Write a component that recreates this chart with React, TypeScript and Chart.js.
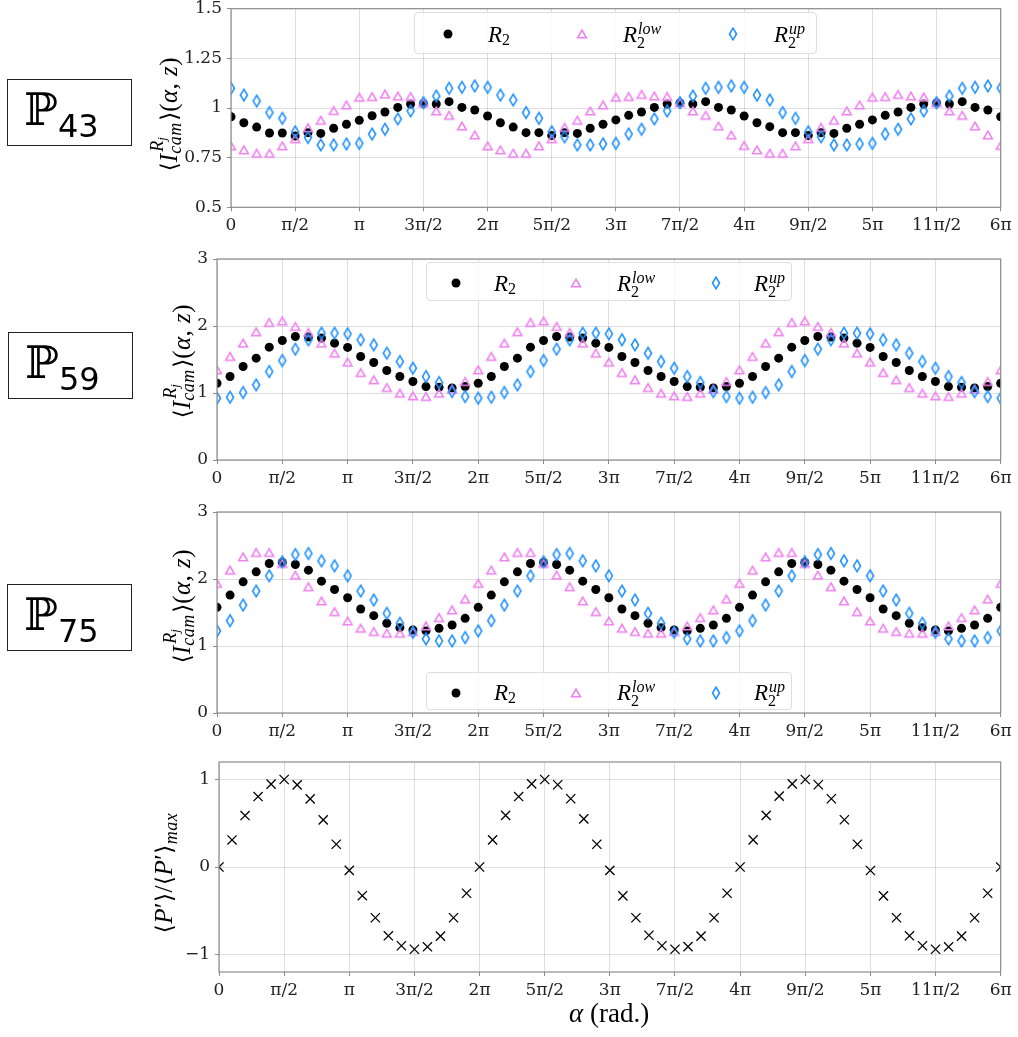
import React, { useEffect, useRef } from 'react';
import { Chart, registerables } from 'chart.js';
Chart.register(...registerables);

// alpha / pi
const ALPHA_OVER_PI = [
  0, 0.1, 0.2, 0.3, 0.4, 0.5, 0.6, 0.7, 0.8, 0.9,
  1, 1.1, 1.2, 1.3, 1.4, 1.5, 1.6, 1.7, 1.8, 1.9,
  2, 2.1, 2.2, 2.3, 2.4, 2.5, 2.6, 2.7, 2.8, 2.9,
  3, 3.1, 3.2, 3.3, 3.4, 3.5, 3.6, 3.7, 3.8, 3.9,
  4, 4.1, 4.2, 4.3, 4.4, 4.5, 4.6, 4.7, 4.8, 4.9,
  5, 5.1, 5.2, 5.3, 5.4, 5.5, 5.6, 5.7, 5.8, 5.9, 6,
];

const X_TICKS = [0, 0.5, 1, 1.5, 2, 2.5, 3, 3.5, 4, 4.5, 5, 5.5, 6];
const X_TICK_LABELS = ['0', 'π/2', 'π', '3π/2', '2π', '5π/2', '3π', '7π/2', '4π', '9π/2', '5π', '11π/2', '6π'];

const P43_Y_TICKS = [0.5, 0.75, 1, 1.25, 1.5];
const P43_Y_LABELS = ['0.5', '0.75', '1', '1.25', '1.5'];
const P59_Y_TICKS = [0, 1, 2, 3];
const P59_Y_LABELS = ['0', '1', '2', '3'];
const P75_Y_TICKS = [0, 1, 2, 3];
const P75_Y_LABELS = ['0', '1', '2', '3'];
const P_Y_TICKS = [-1, 0, 1];
const P_Y_LABELS = ['\u22121', '0', '1'];

const P43_R2 = [
  0.956, 0.926, 0.904, 0.874, 0.874, 0.859, 0.876, 0.872, 0.898, 0.918,
  0.938, 0.961, 0.980, 1.003, 1.020, 1.022, 1.020, 1.032, 1.003, 0.990,
  0.960, 0.926, 0.904, 0.876, 0.876, 0.861, 0.876, 0.872, 0.898, 0.918,
  0.940, 0.963, 0.980, 1.003, 1.020, 1.025, 1.020, 1.032, 1.003, 0.990,
  0.960, 0.926, 0.906, 0.876, 0.876, 0.861, 0.876, 0.872, 0.898, 0.918,
  0.940, 0.963, 0.980, 1.003, 1.020, 1.025, 1.020, 1.032, 1.003, 0.990, 0.956,
];
const P43_R2_LOW = [
  0.809, 0.789, 0.772, 0.772, 0.809, 0.845, 0.900, 0.938, 0.987, 1.015,
  1.054, 1.057, 1.070, 1.060, 1.057, 1.027, 0.985, 0.963, 0.909, 0.864,
  0.809, 0.789, 0.772, 0.772, 0.809, 0.845, 0.902, 0.938, 0.985, 1.015,
  1.054, 1.057, 1.068, 1.060, 1.057, 1.027, 0.985, 0.963, 0.909, 0.864,
  0.811, 0.789, 0.772, 0.772, 0.809, 0.845, 0.902, 0.938, 0.985, 1.015,
  1.054, 1.057, 1.068, 1.060, 1.055, 1.027, 0.985, 0.963, 0.909, 0.864, 0.811,
];
const P43_R2_UP = [
  1.099, 1.065, 1.035, 0.977, 0.948, 0.880, 0.852, 0.814, 0.814, 0.819,
  0.822, 0.869, 0.893, 0.945, 0.985, 1.027, 1.060, 1.099, 1.104, 1.111,
  1.104, 1.065, 1.040, 0.977, 0.948, 0.880, 0.855, 0.814, 0.814, 0.819,
  0.822, 0.869, 0.893, 0.945, 0.985, 1.027, 1.060, 1.099, 1.104, 1.111,
  1.104, 1.065, 1.040, 0.977, 0.948, 0.880, 0.855, 0.814, 0.814, 0.819,
  0.822, 0.869, 0.893, 0.945, 0.985, 1.027, 1.060, 1.099, 1.104, 1.111, 1.101,
];

const P59_R2 = [
  1.146, 1.246, 1.395, 1.520, 1.684, 1.784, 1.844, 1.834, 1.820, 1.744,
  1.680, 1.545, 1.455, 1.335, 1.246, 1.171, 1.096, 1.086, 1.076, 1.096,
  1.146, 1.246, 1.395, 1.520, 1.684, 1.784, 1.844, 1.834, 1.820, 1.744,
  1.680, 1.545, 1.455, 1.335, 1.246, 1.171, 1.096, 1.086, 1.076, 1.096,
  1.146, 1.246, 1.395, 1.520, 1.684, 1.784, 1.844, 1.834, 1.820, 1.744,
  1.680, 1.545, 1.455, 1.335, 1.246, 1.171, 1.096, 1.086, 1.076, 1.096, 1.146,
];
const P59_R2_LOW = [
  1.345, 1.545, 1.744, 1.913, 2.053, 2.073, 1.993, 1.903, 1.744, 1.594,
  1.460, 1.305, 1.196, 1.081, 0.997, 0.957, 0.947, 0.997, 1.056, 1.171,
  1.345, 1.545, 1.744, 1.913, 2.053, 2.073, 1.993, 1.903, 1.744, 1.594,
  1.460, 1.305, 1.196, 1.081, 0.997, 0.957, 0.947, 0.997, 1.056, 1.171,
  1.345, 1.545, 1.744, 1.913, 2.053, 2.073, 1.993, 1.903, 1.744, 1.594,
  1.460, 1.305, 1.196, 1.081, 0.997, 0.957, 0.947, 0.997, 1.056, 1.171, 1.345,
];
const P59_R2_UP = [
  0.922, 0.937, 1.007, 1.121, 1.320, 1.485, 1.654, 1.794, 1.893, 1.893,
  1.883, 1.794, 1.719, 1.594, 1.470, 1.370, 1.246, 1.156, 1.021, 0.947,
  0.922, 0.937, 1.007, 1.121, 1.320, 1.485, 1.654, 1.794, 1.893, 1.893,
  1.883, 1.794, 1.719, 1.594, 1.470, 1.370, 1.246, 1.156, 1.021, 0.947,
  0.922, 0.937, 1.007, 1.121, 1.320, 1.485, 1.654, 1.794, 1.893, 1.893,
  1.883, 1.794, 1.719, 1.594, 1.470, 1.370, 1.246, 1.156, 1.021, 0.947, 0.922,
];

const P75_R2 = [
  1.577, 1.760, 1.958, 2.107, 2.231, 2.246, 2.216, 2.132, 1.968, 1.844,
  1.720, 1.552, 1.453, 1.339, 1.274, 1.239, 1.225, 1.264, 1.314, 1.413,
  1.577, 1.760, 1.958, 2.107, 2.231, 2.246, 2.216, 2.132, 1.968, 1.844,
  1.720, 1.552, 1.453, 1.339, 1.274, 1.239, 1.225, 1.264, 1.314, 1.413,
  1.577, 1.760, 1.958, 2.107, 2.231, 2.246, 2.216, 2.132, 1.968, 1.844,
  1.720, 1.552, 1.453, 1.339, 1.274, 1.239, 1.225, 1.264, 1.314, 1.413, 1.577,
];
const P75_R2_LOW = [
  1.934, 2.132, 2.330, 2.395, 2.395, 2.231, 2.057, 1.884, 1.671, 1.512,
  1.373, 1.264, 1.215, 1.190, 1.190, 1.215, 1.299, 1.423, 1.537, 1.700,
  1.934, 2.132, 2.330, 2.395, 2.395, 2.231, 2.057, 1.884, 1.671, 1.512,
  1.373, 1.264, 1.215, 1.190, 1.190, 1.215, 1.299, 1.423, 1.537, 1.700,
  1.934, 2.132, 2.330, 2.395, 2.395, 2.231, 2.057, 1.884, 1.671, 1.512,
  1.373, 1.264, 1.215, 1.190, 1.190, 1.215, 1.299, 1.423, 1.537, 1.700, 1.934,
];
const P75_R2_UP = [
  1.225, 1.378, 1.611, 1.820, 2.048, 2.256, 2.365, 2.380, 2.271, 2.196,
  2.048, 1.820, 1.686, 1.487, 1.339, 1.205, 1.106, 1.076, 1.076, 1.125,
  1.225, 1.378, 1.611, 1.820, 2.048, 2.256, 2.365, 2.380, 2.271, 2.196,
  2.048, 1.820, 1.686, 1.487, 1.339, 1.205, 1.106, 1.076, 1.076, 1.125,
  1.225, 1.378, 1.611, 1.820, 2.048, 2.256, 2.365, 2.380, 2.271, 2.196,
  2.048, 1.820, 1.686, 1.487, 1.339, 1.205, 1.106, 1.076, 1.076, 1.125, 1.225,
];

const P_NORM = [
  0, 0.309, 0.588, 0.805, 0.947, 1.0, 0.939, 0.779, 0.538, 0.26,
  -0.038, -0.328, -0.58, -0.786, -0.9, -0.94, -0.912, -0.79, -0.58, -0.3,
  0, 0.31, 0.59, 0.805, 0.95, 1.0, 0.94, 0.78, 0.55, 0.26,
  -0.038, -0.33, -0.58, -0.78, -0.9, -0.94, -0.91, -0.79, -0.58, -0.3,
  0, 0.31, 0.59, 0.81, 0.95, 1.0, 0.94, 0.78, 0.54, 0.26,
  -0.04, -0.33, -0.58, -0.786, -0.9, -0.94, -0.912, -0.79, -0.58, -0.3, 0,
];

const SERIF = '"Liberation Serif", "DejaVu Serif", serif';
const TICK_FONT = '"DejaVu Serif", serif';
const PINK = '#EE82EE';
const BLUE = '#1E90FF';
const W = 1018;
const PLOT_RIGHT = 1000.7;

// marker geometry (px)
const TRI_HW = 4.4, TRI_HH = 3.8, TRI_LW = 1.6;
const DIA_HW = 3.5, DIA_HH = 5.8, DIA_LW = 1.6;

function makeTriangle(): HTMLCanvasElement {
  const c = document.createElement('canvas');
  c.width = 16; c.height = 16;
  const ctx = c.getContext('2d')!;
  ctx.strokeStyle = PINK; ctx.lineWidth = TRI_LW; ctx.lineJoin = 'miter';
  ctx.beginPath();
  ctx.moveTo(8, 8 - TRI_HH); ctx.lineTo(8 - TRI_HW, 8 + TRI_HH); ctx.lineTo(8 + TRI_HW, 8 + TRI_HH); ctx.closePath();
  ctx.stroke();
  return c;
}
function makeDiamond(): HTMLCanvasElement {
  const c = document.createElement('canvas');
  c.width = 12; c.height = 18;
  const ctx = c.getContext('2d')!;
  ctx.strokeStyle = BLUE; ctx.lineWidth = DIA_LW; ctx.lineJoin = 'miter';
  ctx.beginPath();
  ctx.moveTo(6, 9 - DIA_HH); ctx.lineTo(6 + DIA_HW, 9); ctx.lineTo(6, 9 + DIA_HH); ctx.lineTo(6 - DIA_HW, 9); ctx.closePath();
  ctx.stroke();
  return c;
}

type PanelDef = {
  top: number; height: number; left: number; plotTop: number; plotBottom: number;
  yMin: number; yMax: number; yTicks: number[]; yLabels: string[];
  kind: 'three' | 'cross';
  series: number[][];
};

const framePlugin = {
  id: 'frame',
  afterDatasetsDraw(chart: any) {
    const { ctx, chartArea: a } = chart;
    ctx.save();
    ctx.strokeStyle = '#8c8c8c';
    ctx.lineWidth = 1.2;
    ctx.strokeRect(a.left, a.top, a.right - a.left, a.bottom - a.top);
    ctx.restore();
  },
};

function Panel({ def }: { def: PanelDef }) {
  const ref = useRef<HTMLCanvasElement>(null);
  useEffect(() => {
    const canvas = ref.current!;
    const pts = (ys: number[]) => ALPHA_OVER_PI.map((x, i) => ({ x, y: ys[i] }));
    let datasets: any[];
    if (def.kind === 'three') {
      const tri = makeTriangle();
      const dia = makeDiamond();
      datasets = [
        { label: 'R2', data: pts(def.series[0]), pointStyle: 'circle', pointRadius: 4.5, backgroundColor: '#000', borderWidth: 0, order: 3 },
        { label: 'R2low', data: pts(def.series[1]), pointStyle: tri, pointRadius: 5, order: 2 },
        { label: 'R2up', data: pts(def.series[2]), pointStyle: dia, pointRadius: 5, order: 1 },
      ];
    } else {
      datasets = [
        { label: 'P', data: pts(def.series[0]), pointStyle: 'crossRot', pointRadius: 6.5, borderColor: '#000', borderWidth: 1.3, backgroundColor: '#000' },
      ];
    }
    datasets.forEach((d) => { d.clip = 0; d.showLine = false; });
    const gridColor = 'rgba(0,0,0,0.13)';
    const chart = new Chart(canvas, {
      type: 'scatter',
      data: { datasets },
      plugins: [framePlugin],
      options: {
        animation: false,
        responsive: false,
        devicePixelRatio: 1,
        events: [],
        layout: { padding: { top: def.plotTop, right: W - PLOT_RIGHT, left: 0, bottom: 0 } },
        plugins: { legend: { display: false }, tooltip: { enabled: false }, title: { display: false } },
        scales: {
          x: {
            type: 'linear', min: 0, max: 6,
            border: { display: false },
            grid: { color: gridColor, lineWidth: 1, tickLength: 4, tickColor: '#8c8c8c', tickWidth: 1 },
            ticks: {
              color: '#222', padding: 4, maxRotation: 0, autoSkip: false,
              font: { family: TICK_FONT, size: 17 },
              callback: (v: any) => { const i = X_TICKS.indexOf(Number(v)); return i >= 0 ? X_TICK_LABELS[i] : ''; },
            },
            afterBuildTicks: (s: any) => { s.ticks = X_TICKS.map((value) => ({ value })); },
            afterFit: (s: any) => { s.height = def.height - def.plotBottom; s.paddingLeft = 0; s.paddingRight = 0; },
          },
          y: {
            type: 'linear', min: def.yMin, max: def.yMax,
            border: { display: false },
            grid: { color: gridColor, lineWidth: 1, tickLength: 4, tickColor: '#8c8c8c', tickWidth: 1 },
            ticks: {
              color: '#222', padding: 5, autoSkip: false,
              font: { family: TICK_FONT, size: 17 },
              callback: (v: any) => { const i = def.yTicks.indexOf(Number(v)); return i >= 0 ? def.yLabels[i] : ''; },
            },
            afterBuildTicks: (s: any) => { s.ticks = def.yTicks.map((value) => ({ value })); },
            afterFit: (s: any) => { s.width = def.left; s.paddingTop = 0; s.paddingBottom = 0; },
          },
        },
      } as any,
    });
    return () => chart.destroy();
  }, [def]);
  return (
    <canvas ref={ref} width={W} height={def.height}
      style={{ position: 'absolute', left: 0, top: def.top, width: W, height: def.height, display: 'block' }} />
  );
}

function Txt({ x, y, size, italic, children, family = SERIF }: any) {
  return (
    <span style={{
      position: 'absolute', left: x, top: y - 0.8375 * size, fontSize: size, lineHeight: `${size}px`,
      fontFamily: family, fontStyle: italic ? 'italic' : 'normal', whiteSpace: 'nowrap', color: '#000',
    }}>{children}</span>
  );
}

function Legend({ left, top, width, height, base, my, mx, tx }: any) {
  const tri = `8,${8 - TRI_HH} ${8 - TRI_HW},${8 + TRI_HH} ${8 + TRI_HW},${8 + TRI_HH}`;
  const dia = `6,${9 - DIA_HH} ${6 + DIA_HW},9 6,${9 + DIA_HH} ${6 - DIA_HW},9`;
  return (
    <div style={{
      position: 'absolute', left, top, width, height, boxSizing: 'border-box',
      border: '1px solid #dedede', borderRadius: 4, background: 'rgba(255,255,255,0.8)',
    }}>
      <svg style={{ position: 'absolute', left: mx[0] - 6, top: my - 6 }} width={12} height={12}>
        <circle cx={6} cy={6} r={4.5} fill="#000" />
      </svg>
      <Txt x={tx[0]} y={base} size={23} italic>R</Txt>
      <Txt x={tx[0] + 14} y={base + 3.5} size={16}>2</Txt>
      <svg style={{ position: 'absolute', left: mx[1] - 8, top: my - 8 }} width={16} height={16}>
        <polygon points={tri} fill="none" stroke={PINK} strokeWidth={TRI_LW} />
      </svg>
      <Txt x={tx[1]} y={base} size={23} italic>R</Txt>
      <Txt x={tx[1] + 15} y={base - 7.5} size={16} italic>low</Txt>
      <Txt x={tx[1] + 14} y={base + 6} size={16}>2</Txt>
      <svg style={{ position: 'absolute', left: mx[2] - 6, top: my - 9 }} width={12} height={18}>
        <polygon points={dia} fill="none" stroke={BLUE} strokeWidth={DIA_LW} />
      </svg>
      <Txt x={tx[2]} y={base} size={23} italic>R</Txt>
      <Txt x={tx[2] + 15} y={base - 7.5} size={16} italic>up</Txt>
      <Txt x={tx[2] + 14} y={base + 6} size={16}>2</Txt>
    </div>
  );
}

const TITLE_FS = 25;

function YTitle({ cy, baseX, children }: any) {
  const BW = 200;
  return (
    <div style={{
      position: 'absolute', left: baseX - 0.8375 * TITLE_FS, top: cy + BW / 2, width: BW, height: TITLE_FS,
      transformOrigin: '0 0', transform: 'rotate(-90deg)', textAlign: 'center',
      fontFamily: SERIF, fontSize: TITLE_FS, lineHeight: `${TITLE_FS}px`, whiteSpace: 'nowrap', color: '#000',
    }}>{children}</div>
  );
}

const ANG = { fontFamily: '"DejaVu Serif", serif', fontSize: 23 };

function IcamTitle() {
  return (
    <span>
      <span style={ANG}>⟨</span>
      <i>I</i>
      <span style={{ display: 'inline-block', position: 'relative', width: 33, height: 0 }}>
        <span style={{ position: 'absolute', left: 2, top: -14 - 0.8375 * 18, fontSize: 18, lineHeight: '18px', fontStyle: 'italic' }}>
          R<span style={{ fontSize: 13, position: 'relative', top: 3 }}>j</span>
        </span>
        <span style={{ position: 'absolute', left: 0, top: 4 - 0.8375 * 18, fontSize: 18, lineHeight: '18px', fontStyle: 'italic', letterSpacing: 0.5 }}>cam</span>
      </span>
      <span style={ANG}>⟩</span>
      <span style={{ letterSpacing: 0.5 }}>(<i>α</i>, <i>z</i>)</span>
    </span>
  );
}

function PTitle() {
  return (
    <span style={{ letterSpacing: 0.5 }}>
      <span style={ANG}>⟨</span>
      <i>P</i>′
      <span style={ANG}>⟩</span>/
      <span style={ANG}>⟨</span>
      <i>P</i>′
      <span style={ANG}>⟩</span>
      <span style={{ fontSize: 18, fontStyle: 'italic', position: 'relative', top: 5 }}>max</span>
    </span>
  );
}

function BoxLabel({ left, top, num }: any) {
  return (
    <div style={{ position: 'absolute', left, top, width: 125, height: 67, boxSizing: 'border-box', border: '1.5px solid #222' }}>
      <Txt x={16} y={45} size={45} family='"DejaVu Serif", "DejaVu Sans", serif'>ℙ</Txt>
      <Txt x={50} y={57} size={32} family='"DejaVu Sans", sans-serif'>{num}</Txt>
    </div>
  );
}

const PANELS: PanelDef[] = [
  { top: 0, height: 245, left: 231, plotTop: 8.7, plotBottom: 207.3, yMin: 0.5, yMax: 1.5, yTicks: P43_Y_TICKS, yLabels: P43_Y_LABELS, kind: 'three', series: [P43_R2, P43_R2_LOW, P43_R2_UP] },
  { top: 245, height: 250, left: 217, plotTop: 14, plotBottom: 215, yMin: 0, yMax: 3, yTicks: P59_Y_TICKS, yLabels: P59_Y_LABELS, kind: 'three', series: [P59_R2, P59_R2_LOW, P59_R2_UP] },
  { top: 495, height: 250, left: 217, plotTop: 17, plotBottom: 218, yMin: 0, yMax: 3, yTicks: P75_Y_TICKS, yLabels: P75_Y_LABELS, kind: 'three', series: [P75_R2, P75_R2_LOW, P75_R2_UP] },
  { top: 745, height: 292, left: 219, plotTop: 17, plotBottom: 227, yMin: -1.2, yMax: 1.2, yTicks: P_Y_TICKS, yLabels: P_Y_LABELS, kind: 'cross', series: [P_NORM] },
];

export default function App() {
  return (
    <div style={{ position: 'absolute', left: 0, top: 0, width: W, height: 1037, background: '#fff', overflow: 'hidden' }}>
      {PANELS.map((p, i) => <Panel key={i} def={p} />)}
      <Legend left={414} top={12} width={403} height={42} base={29} my={21} mx={[33, 167, 318]} tx={[73, 208, 359]} />
      <Legend left={426} top={262} width={366} height={39} base={28} my={20} mx={[29, 149, 289]} tx={[67, 190, 327]} />
      <Legend left={426} top={672} width={366} height={38} base={27} my={20} mx={[29, 149, 289]} tx={[67, 190, 327]} />
      <YTitle cy={114} baseX={177}><IcamTitle /></YTitle>
      <YTitle cy={361} baseX={190}><IcamTitle /></YTitle>
      <YTitle cy={606} baseX={190}><IcamTitle /></YTitle>
      <YTitle cy={873} baseX={172}><PTitle /></YTitle>
      <Txt x={569} y={1023} size={27}><i>α</i> (rad.)</Txt>
      <BoxLabel left={7} top={79} num="43" />
      <BoxLabel left={8} top={332} num="59" />
      <BoxLabel left={7} top={584} num="75" />
    </div>
  );
}
